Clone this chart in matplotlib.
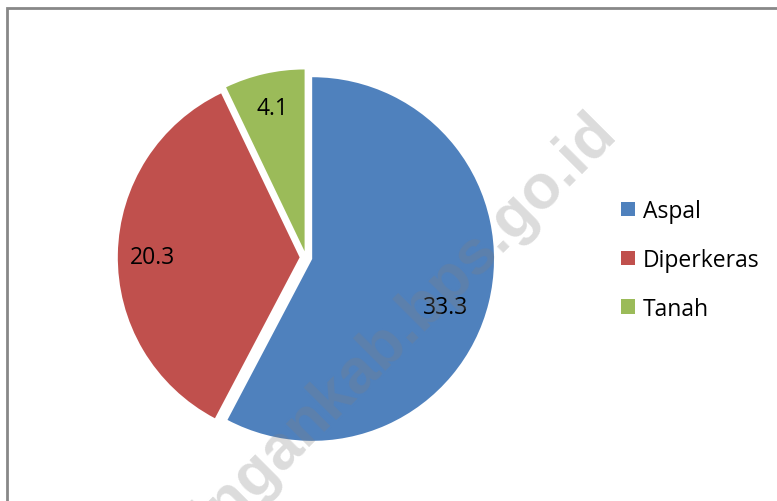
import matplotlib
matplotlib.use("Agg")
import matplotlib.pyplot as plt
from matplotlib.patches import Rectangle

# data
categories = ["Aspal", "Diperkeras", "Tanah"]
values = [33.3, 20.3, 4.1]
colors = ["#4F81BD", "#C0504D", "#9BBB59"]
watermark = "kuningankab.bps.go.id"

plt.rcParams['font.family'] = ['Open Sans', 'DejaVu Sans']

W, H = 777, 502
fig = plt.figure(figsize=(W / 100, H / 100), dpi=100)

# outer chart border (cut off at right/bottom like the reference)
fig.patches.append(Rectangle((7 / W, -0.1), 1.2, 1 - 9 / H + 0.1,
                             transform=fig.transFigure, fill=False,
                             edgecolor="#888888", linewidth=2))

# pie axes: centre ~ (306, 258.5) px, radius ~182 px
cx, cy, half = 306, 258.5, 200
ax = fig.add_axes([(cx - half) / W, (H - cy - half) / H, 2 * half / W, 2 * half / H])
total = sum(values)
wedges, _, autotexts = ax.pie(
    values, colors=colors, startangle=90, counterclock=False,
    explode=[0.035] * len(values), radius=1,
    autopct=lambda p: f"{p * total / 100:.1f}", pctdistance=0.81,
    wedgeprops=dict(linewidth=0),
    textprops=dict(fontsize=16.5, color="black"))

# small nudges so the labels sit where Excel's "best fit" put them
label_shift = [(-0.05, -0.07), (0.0, -0.015), (0.0, 0.0)]
for t, (dx, dy) in zip(autotexts, label_shift):
    x, y = t.get_position()
    t.set_position((x + dx, y + dy))

ax.set_xlim(-1.1, 1.1)
ax.set_ylim(-1.1, 1.1)
ax.set_aspect("auto")
ax.axis("off")

fig.legend(wedges, categories, loc="center left",
           bbox_to_anchor=(621 / W, 1 - 261 / H), frameon=False,
           fontsize=16.5, handlelength=0.6, handleheight=0.6,
           handletextpad=0.35, labelspacing=1.08, borderpad=0, borderaxespad=0)

# watermark on top
fig.text(618 / W, 1 - 134 / H, watermark, rotation=45, rotation_mode="anchor",
         ha="right", va="baseline", fontsize=45, fontweight="bold",
         family="Liberation Sans", color="#808080", alpha=0.28, zorder=10)

fig.savefig("out.png", dpi=100)
